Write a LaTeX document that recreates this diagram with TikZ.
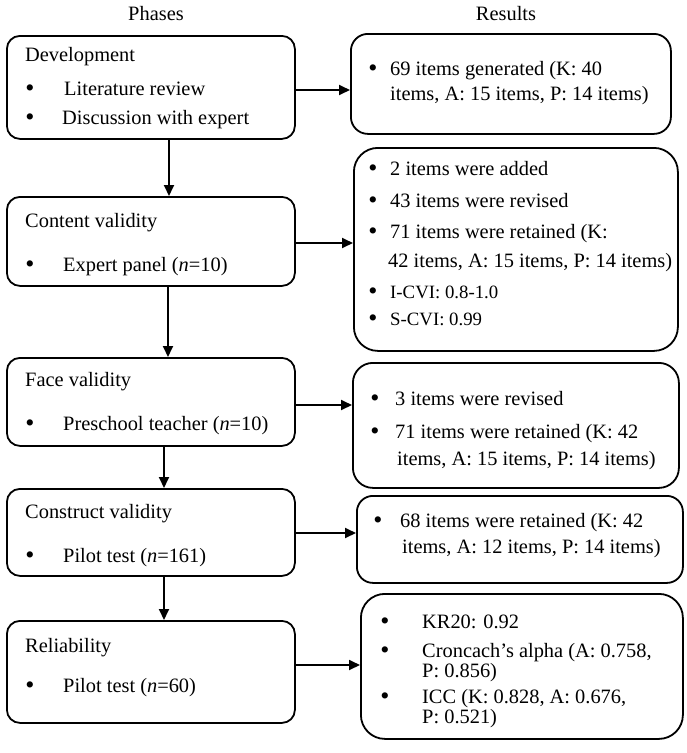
\documentclass[tikz,border=0pt]{standalone}
\usepackage{fontspec}
\setmainfont{Liberation Serif}
\usetikzlibrary{arrows.meta}
\begin{document}
\begin{tikzpicture}[x=1pt,y=-1pt,
  box/.style={draw, line width=1.8pt, rounded corners=#1, inner sep=0pt, anchor=north west},
  box/.default=13pt,
  txt/.style={font=\fontsize{20.4}{24}\selectfont, anchor=base west, inner sep=0pt},
  stxt/.style={font=\fontsize{18.8}{22}\selectfont, anchor=base west, inner sep=0pt},
  bul/.style={font=\fontsize{26}{28}\selectfont, anchor=base, inner sep=0pt, yshift=-1.5pt},
  hdr/.style={font=\fontsize{20.4}{24}\selectfont, anchor=base, inner sep=0pt},
  arr/.style={line width=1.8pt, -{Triangle[length=11pt,width=10pt]}}]
\useasboundingbox (0,0) rectangle (687,753);

% headers
\node[hdr] (ph) at (156,20) {Phases};
\node[hdr] (rs) at (506,20) {Results};

% left boxes
\node[box, minimum width=288pt, minimum height=103pt] (L1) at (6,35) {};
\node[box, minimum width=288pt, minimum height=89pt] (L2) at (6,196) {};
\node[box, minimum width=288pt, minimum height=88pt] (L3) at (6,357) {};
\node[box, minimum width=288pt, minimum height=87pt] (L4) at (6,488) {};
\node[box, minimum width=288pt, minimum height=102pt] (L5) at (6,620) {};

% right boxes
\node[box=17pt, minimum width=320pt, minimum height=100pt] (R1) at (350,33) {};
\node[box=24pt, minimum width=324pt, minimum height=203pt] (R2) at (353,147) {};
\node[box=20pt, minimum width=326pt, minimum height=125pt] (R3) at (352,362) {};
\node[box=16pt, minimum width=326pt, minimum height=87pt] (R4) at (356,495) {};
\node[box=24pt, minimum width=322pt, minimum height=145pt] (R5) at (360,593) {};

% left texts
\node[txt] (t1) at (25,61) {Development};
\node[bul] (b1a) at (30,95) {\textbullet};
\node[txt] (t1a) at (64,95) {Literature review};
\node[bul] (b1b) at (30,124) {\textbullet};
\node[txt] (t1b) at (62,124) {Discussion with expert};

\node[txt] (t2) at (25,227) {Content validity};
\node[bul] (b2a) at (30,271) {\textbullet};
\node[txt] (t2a) at (63,271) {Expert panel (\textit{n}=10)};

\node[txt] (t3) at (25,386) {Face validity};
\node[bul] (b3a) at (30,430) {\textbullet};
\node[txt] (t3a) at (63,430) {Preschool teacher (\textit{n}=10)};

\node[txt] (t4) at (25,518) {Construct validity};
\node[bul] (b4a) at (30,562) {\textbullet};
\node[txt] (t4a) at (63,562) {Pilot test (\textit{n}=161)};

\node[txt] (t5) at (25,652) {Reliability};
\node[bul] (b5a) at (30,692) {\textbullet};
\node[txt] (t5a) at (63,692) {Pilot test (\textit{n}=60)};

% right texts
\node[bul] (r1b) at (373,75) {\textbullet};
\node[txt] (r1a) at (390,75) {69 items generated (K: 40};
\node[txt] (r1c) at (390,100) {items, A: 15 items, P: 14 items)};

\node[bul] (r2b1) at (373,175) {\textbullet};
\node[txt] (r2a) at (390,175) {2 items were added};
\node[bul] (r2b2) at (373,207) {\textbullet};
\node[txt] (r2c) at (390,207) {43 items were revised};
\node[bul] (r2b3) at (373,238) {\textbullet};
\node[txt] (r2d) at (390,238) {71 items were retained (K:};
\node[txt] (r2e) at (388,267) {42 items, A: 15 items, P: 14 items)};
\node[bul] (r2b4) at (373,298) {\textbullet};
\node[stxt] (r2f) at (390,298) {I-CVI: 0.8-1.0};
\node[bul] (r2b5) at (373,325) {\textbullet};
\node[stxt] (r2g) at (390,325) {S-CVI: 0.99};

\node[bul] (r3b1) at (375,405) {\textbullet};
\node[txt] (r3a) at (395,405) {3 items were revised};
\node[bul] (r3b2) at (375,438) {\textbullet};
\node[txt] (r3c) at (395,438) {71 items were retained (K: 42};
\node[txt] (r3d) at (397,465) {items, A: 15 items, P: 14 items)};

\node[bul] (r4b1) at (378,527) {\textbullet};
\node[txt] (r4a) at (400,527) {68 items were retained (K: 42};
\node[txt] (r4c) at (402,553) {items, A: 12 items, P: 14 items)};

\node[bul] (r5b1) at (385,628) {\textbullet};
\node[txt] (r5a) at (422,628) {KR20: 0.92};
\node[bul] (r5b2) at (385,657) {\textbullet};
\node[txt] (r5c) at (422,657) {Croncach’s alpha (A: 0.758,};
\node[txt] (r5d) at (422,677) {P: 0.856)};
\node[bul] (r5b3) at (385,703) {\textbullet};
\node[txt] (r5e) at (422,703) {ICC (K: 0.828, A: 0.676,};
\node[txt] (r5f) at (422,723) {P: 0.521)};

% guide coordinates
\coordinate (v1) at (169,0);
\coordinate (v2) at (168,0);
\coordinate (v3) at (164,0);
\coordinate (h1) at (0,90);
\coordinate (h2) at (0,243);
\coordinate (h3) at (0,405);
\coordinate (h4) at (0,533);
\coordinate (h5) at (0,665);

% vertical arrows
\draw[arr] (L1.south -| v1) -- (L2.north -| v1);
\draw[arr] (L2.south -| v2) -- (L3.north -| v2);
\draw[arr] (L3.south -| v3) -- (L4.north -| v3);
\draw[arr] (L4.south -| v3) -- (L5.north -| v3);

% horizontal arrows
\draw[arr] (L1.east |- h1) -- (R1.west |- h1);
\draw[arr] (L2.east |- h2) -- (R2.west |- h2);
\draw[arr] (L3.east |- h3) -- (R3.west |- h3);
\draw[arr] (L4.east |- h4) -- (R4.west |- h4);
\draw[arr] (L5.east |- h5) -- (R5.west |- h5);
\end{tikzpicture}
\end{document}
